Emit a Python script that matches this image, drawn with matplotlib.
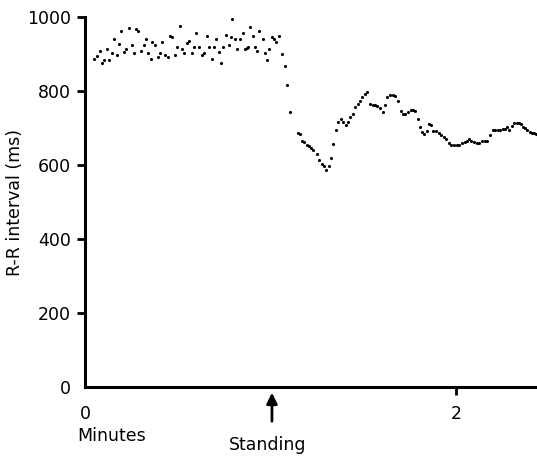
import matplotlib
matplotlib.use("Agg")
import matplotlib.pyplot as plt

# ---- data ----
time_min = [
    0.047, 0.063, 0.083, 0.092, 0.104, 0.120, 0.129, 0.144, 0.158, 0.171,
    0.183, 0.196, 0.212, 0.223, 0.235, 0.252, 0.262, 0.277, 0.288, 0.300,
    0.316, 0.331, 0.341, 0.354, 0.363, 0.377, 0.392, 0.406, 0.417, 0.433,
    0.446, 0.458, 0.471, 0.485, 0.496, 0.512, 0.525, 0.535,
    0.548, 0.561, 0.575, 0.588, 0.600, 0.616, 0.631, 0.642, 0.656, 0.670,
    0.683, 0.695, 0.708, 0.721, 0.731, 0.746, 0.760, 0.775, 0.785, 0.794,
    0.810, 0.821, 0.836, 0.850, 0.864, 0.872, 0.879, 0.889, 0.904, 0.918,
    0.929, 0.940, 0.958, 0.972, 0.983, 0.994, 1.008, 1.019, 1.030, 1.044,
    1.060, 1.078, 1.091, 1.107, 1.148, 1.157, 1.170, 1.181, 1.195, 1.206,
    1.217, 1.231, 1.249, 1.263, 1.278, 1.288, 1.299, 1.314, 1.328, 1.339,
    1.353, 1.366, 1.378, 1.389, 1.407, 1.418, 1.429, 1.443, 1.457, 1.472,
    1.482, 1.493, 1.508, 1.522, 1.536, 1.551, 1.565, 1.576, 1.590, 1.605,
    1.619, 1.630, 1.644, 1.659, 1.673, 1.687, 1.702, 1.712, 1.727, 1.741,
    1.756, 1.770, 1.781, 1.795, 1.806, 1.817, 1.827, 1.842, 1.856, 1.867,
    1.878, 1.892, 1.907, 1.921, 1.935, 1.946, 1.961, 1.975, 1.989, 2.004,
    2.018, 2.032, 2.047, 2.058, 2.068, 2.083, 2.097, 2.112, 2.126, 2.140,
    2.155, 2.169, 2.183, 2.198, 2.212, 2.226, 2.237, 2.252, 2.266, 2.277,
    2.287, 2.302, 2.313, 2.327, 2.338, 2.349, 2.360, 2.374, 2.385, 2.399,
    2.410, 2.420, 2.431,
]
rr_ms = [
    886, 895, 907, 875, 884, 914, 884, 904, 941, 898,
    928, 961, 905, 913, 970, 925, 902, 967, 963, 909,
    925, 941, 902, 887, 932, 925, 893, 904, 932, 896,
    893, 950, 945, 898, 920, 977, 913, 904,
    929, 936, 904, 920, 956, 918, 898, 902, 950, 920,
    886, 920, 940, 905, 877, 918, 952, 925, 945, 994,
    941, 914, 940, 958, 914, 916, 918, 974, 949, 920,
    907, 961, 941, 904, 884, 913, 945, 941, 932, 950,
    900, 868, 817, 742, 687, 684, 666, 662, 655, 651,
    646, 640, 630, 614, 603, 597, 587, 597, 619, 657,
    695, 716, 725, 716, 707, 716, 731, 738, 758, 765,
    774, 785, 792, 797, 765, 763, 761, 760, 754, 743,
    763, 785, 790, 790, 787, 772, 747, 738, 738, 743,
    749, 749, 747, 724, 704, 689, 684, 693, 711, 707,
    693, 691, 686, 680, 677, 671, 660, 655, 653, 653,
    653, 659, 662, 664, 669, 666, 662, 660, 660, 666,
    666, 666, 680, 695, 695, 695, 695, 696, 698, 702,
    695, 705, 713, 714, 713, 711, 702, 700, 695, 689,
    687, 686, 684,
]
y_ticks = [0, 200, 400, 600, 800, 1000]
x_ticks = [0, 2]
x_tick_labels = ["0", "2"]
standing_time = 1.008

plt.rcParams['font.family'] = ['DejaVu Sans']

fig = plt.figure(figsize=(5.37, 4.57), dpi=100)
ax = fig.add_axes([85/537, 70/457, 1 - 85/537, 370/457])

ax.scatter(time_min, rr_ms, s=5, color='black', linewidths=0, zorder=3)

ax.set_xlim(0, 2.437)
ax.set_ylim(0, 1000)

for side in ('top', 'right'):
    ax.spines[side].set_visible(False)
for side in ('left', 'bottom'):
    ax.spines[side].set_linewidth(2.2)

ax.set_yticks(y_ticks)
ax.set_xticks(x_ticks)
ax.set_xticklabels(x_tick_labels)
ax.tick_params(axis='both', direction='out', length=6, width=2, labelsize=12.5)
ax.tick_params(axis='x', pad=7)
ax.tick_params(axis='y', pad=4)
ax.xaxis.get_major_ticks()[0].tick1line.set_visible(False)
ax.yaxis.get_major_ticks()[0].tick1line.set_visible(False)

ax.set_ylabel("R-R interval (ms)", fontsize=12.5, labelpad=2)

ax.text(-0.04, -0.132, "Minutes", transform=ax.get_xaxis_transform(),
        ha='left', va='center', fontsize=12.5, clip_on=False)

ax.annotate('', xy=(standing_time, -0.008), xytext=(standing_time, -0.10),
            xycoords=('data', 'axes fraction'), textcoords=('data', 'axes fraction'),
            arrowprops=dict(arrowstyle='-|>', lw=2, color='black', mutation_scale=16),
            annotation_clip=False)
ax.text(0.985, -0.157, "Standing", transform=ax.get_xaxis_transform(),
        ha='center', va='center', fontsize=12.5, clip_on=False)

fig.savefig("out.png", dpi=100)
